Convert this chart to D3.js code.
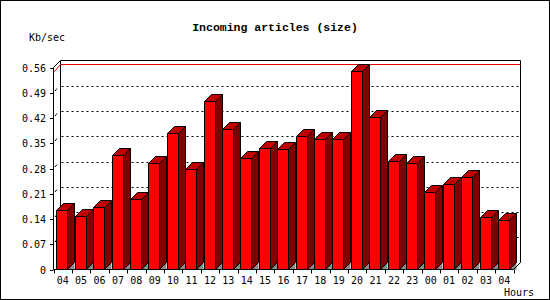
<!DOCTYPE html>
<html><head><meta charset="utf-8">
<script src="https://cdn.jsdelivr.net/npm/d3@7"></script>
<style>html,body{margin:0;padding:0;background:#fff;}svg{display:block;}</style>
</head><body>
<script>
const hours = ["04","05","06","07","08","09","10","11","12","13","14","15","16","17","18","19","20","21","22","23","00","01","02","03","04"];
const values = [0.164,0.148,0.1735,0.3165,0.1955,0.2945,0.378,0.278,0.467,0.389,0.308,0.336,0.333,0.369,0.361,0.3615,0.5515,0.4225,0.301,0.2945,0.214,0.2365,0.2555,0.145,0.137];
const yTicks = [0,0.07,0.14,0.21,0.28,0.35,0.42,0.49,0.56];
const yTickLabels = ["0","0.07","0.14","0.21","0.28","0.35","0.42","0.49","0.56"];
const title = "Incoming articles (size)";
const yTitle = "Kb/sec";
const xTitle = "Hours";

const W=550,H=300,D=7;
const svg=d3.select("body").append("svg").attr("width",W).attr("height",H);
svg.append("rect").attr("x",0.5).attr("y",0.5).attr("width",W-1).attr("height",H-1).attr("fill","#fff").attr("stroke","#000");

const x=d3.scaleBand().domain(d3.range(hours.length)).range([53.5,513.5]).padding(0);
const y=d3.scaleLinear().domain([0,0.56]).range([269.5,67.5]);
const x0=53.5,x1=513.5,y0=y(0),yTop=y(0.56);

const g=svg.append("g");
// back wall frame
g.append("path").attr("d",`M${x0+D},${y0-D}V${yTop-D}H${x1+D}V${y0-D}`).attr("fill","none").attr("stroke","#000");
// gridlines
yTicks.slice(1,-1).forEach(v=>{
  const yy=Math.round(y(v)-D)+0.5;
  g.append("line").attr("x1",x0+D+1).attr("x2",x1+D).attr("y1",yy).attr("y2",yy)
   .attr("stroke","#000").attr("stroke-dasharray","2,3");
  g.append("line").attr("x1",x0+1.5).attr("y1",Math.round(y(v))-2).attr("x2",x0+3.5).attr("y2",Math.round(y(v))-4.5)
   .attr("stroke","#000");
});
// top diagonal
g.append("line").attr("x1",x0).attr("y1",yTop).attr("x2",x0+D).attr("y2",yTop-D).attr("stroke","#000");
// max line (red)
const vmax=d3.max(values);
const ym=Math.round(y(vmax))+0.5;
g.append("path").attr("d",`M${x0+1},${ym}L${x0+D},${ym-D}H${x1+D}`).attr("fill","none").attr("stroke","#e00000");

// bars
const bars=g.append("g");
values.forEach((v,i)=>{
  const bx=Math.round(x(i)+2.8)+0.5, bw=11, by=Math.round(y(v))+0.5, bb=y0;
  const rx=bx+bw;
  // shadow
  bars.append("path").attr("d",`M${rx},${bb}L${rx+D},${bb-D}V${bb}Z`).attr("fill","#8a8a8a").attr("stroke","none");
  // side
  bars.append("path").attr("d",`M${rx},${by}L${rx+D},${by-D}V${bb-D}L${rx},${bb}Z`).attr("fill","#800000").attr("stroke","#000");
  // top
  bars.append("path").attr("d",`M${bx},${by}L${bx+D},${by-D}H${rx+D}L${rx},${by}Z`).attr("fill","#c00000").attr("stroke","#000");
  // front
  bars.append("rect").attr("x",bx).attr("y",by).attr("width",bw).attr("height",bb-by).attr("fill","#ff0000").attr("stroke","#000");
});

// front axes
g.append("path").attr("d",`M${x0},${yTop}V${y0}H${x1}L${x1+D},${y0-D}`).attr("fill","none").attr("stroke","#000");
const font="'DejaVu Sans Mono', monospace";
yTicks.forEach((v,i)=>{
  const yy=Math.round(y(v))+0.5;
  g.append("line").attr("x1",x0-3.5).attr("x2",x0).attr("y1",yy).attr("y2",yy).attr("stroke","#000");
  g.append("text").attr("x",46).attr("y",yy+3.5).attr("text-anchor","end")
   .attr("font-family",font).attr("font-size","10px").attr("fill","#000").text(yTickLabels[i]);
});
d3.range(hours.length+1).forEach(i=>{
  const xx=(i<hours.length?Math.round(x(i)):Math.round(x1))+0.5;
  g.append("line").attr("x1",xx).attr("x2",xx).attr("y1",y0).attr("y2",y0+4).attr("stroke","#000");
});
hours.forEach((h,i)=>{
  g.append("text").attr("x",x(i)+x.bandwidth()/2).attr("y",283.5).attr("text-anchor","middle")
   .attr("font-family",font).attr("font-size","10px").attr("fill","#000").text(h);
});
svg.append("text").attr("x",275).attr("y",30.5).attr("text-anchor","middle")
  .attr("font-family","'Liberation Mono', monospace").attr("font-weight","bold").attr("font-size","11.5px").text(title);
svg.append("text").attr("x",29).attr("y",40.5).attr("font-family",font).attr("font-size","10px").text(yTitle);
svg.append("text").attr("x",534).attr("y",296).attr("text-anchor","end").attr("font-family",font).attr("font-size","10px").text(xTitle);
</script>
</body></html>
